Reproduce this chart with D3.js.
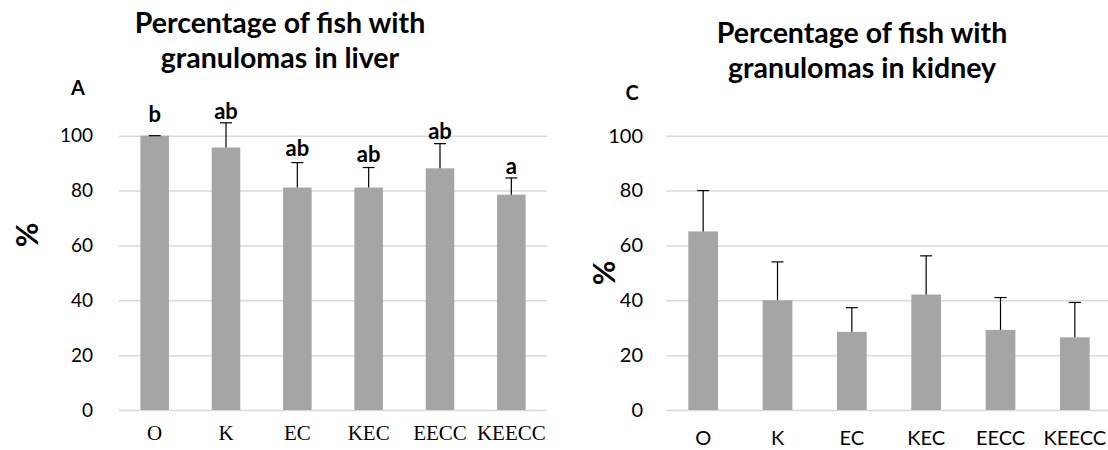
<!DOCTYPE html>
<html>
<head>
<meta charset="utf-8">
<script src="https://cdn.jsdelivr.net/npm/d3@7"></script>
<style>
  html, body { margin: 0; padding: 0; background: #ffffff; }
  svg { display: block; }
</style>
</head>
<body>
<svg id="chart" width="1108" height="450"></svg>
<script>
// Treatment groups shared by both panels
const categories = ["O", "K", "EC", "KEC", "EECC", "KEECC"];

// Panel A: liver (% of fish with granulomas, mean and upper error)
const liverPct = [100, 95.7, 81.1, 81.1, 88.1, 78.5];
const liverErr = [0, 9.0, 9.1, 7.3, 9.0, 6.1];
const liverLetters = ["b", "ab", "ab", "ab", "ab", "a"];

// Panel C: kidney
const kidneyPct = [65.1, 40.0, 28.5, 42.1, 29.2, 26.5];
const kidneyErr = [14.9, 14.0, 8.8, 14.1, 11.8, 12.7];

const yTicks = [0, 20, 40, 60, 80, 100];

const svg = d3.select("#chart");
const SANS = "Lato, 'Open Sans', sans-serif";
const SERIF = "'Liberation Serif', 'DejaVu Serif', serif";
const BAR = "#a5a5a5";
const GRID = "#d9d9d9";

function panel(cfg) {
  const g = svg.append("g");
  const x = d3.scaleBand()
    .domain(categories)
    .range([cfg.x0, cfg.x1])
    .paddingInner(0.6)
    .paddingOuter(0.3);
  const y = d3.scaleLinear().domain([0, 100]).range([410, 135.7]);

  // horizontal gridlines (including the zero line)
  g.append("g")
    .attr("transform", `translate(${cfg.x0},0)`)
    .call(d3.axisLeft(y).tickValues(yTicks).tickSize(-(cfg.x1 - cfg.x0)).tickFormat(""))
    .call(s => s.select(".domain").remove())
    .call(s => s.selectAll("line").attr("stroke", GRID).attr("stroke-width", 1.5));

  // y tick labels
  g.append("g")
    .attr("transform", `translate(${cfg.x0},0)`)
    .call(d3.axisLeft(y).tickValues(yTicks).tickSize(0).tickPadding(cfg.tickPad))
    .call(s => s.select(".domain").remove())
    .call(s => s.selectAll("text")
      .attr("font-family", SANS)
      .attr("font-size", cfg.tickFont)
      .attr("fill", "#000"));

  // x category labels
  g.append("g")
    .attr("transform", `translate(0,${y(0)})`)
    .call(d3.axisBottom(x).tickSize(0))
    .call(s => s.select(".domain").remove())
    .call(s => s.selectAll("text")
      .attr("y", cfg.xLabelY)
      .attr("dy", null)
      .attr("font-family", cfg.xFont)
      .attr("font-size", cfg.xFontSize)
      .attr("fill", "#000"));

  const rows = categories.map((c, i) => ({ c, v: cfg.values[i], e: cfg.errors[i], i }));

  // bars
  g.append("g").selectAll("rect").data(rows).join("rect")
    .attr("x", d => x(d.c))
    .attr("width", x.bandwidth())
    .attr("y", d => y(d.v))
    .attr("height", d => y(0) - y(d.v))
    .attr("fill", BAR);

  // upper error bars
  const eb = g.append("g").attr("stroke", "#000").attr("stroke-width", 1.2);
  eb.selectAll("line.stem").data(rows).join("line")
    .attr("class", "stem")
    .attr("x1", d => x(d.c) + x.bandwidth() / 2)
    .attr("x2", d => x(d.c) + x.bandwidth() / 2)
    .attr("y1", d => y(d.v))
    .attr("y2", d => y(d.v + d.e));
  eb.selectAll("line.cap").data(rows).join("line")
    .attr("class", "cap")
    .attr("x1", d => x(d.c) + x.bandwidth() / 2 - 6)
    .attr("x2", d => x(d.c) + x.bandwidth() / 2 + 6)
    .attr("y1", d => y(d.v + d.e))
    .attr("y2", d => y(d.v + d.e));

  // significance letters
  if (cfg.letters) {
    g.append("g").selectAll("text").data(rows).join("text")
      .attr("x", d => x(d.c) + x.bandwidth() / 2)
      .attr("y", d => y(d.v + d.e) - cfg.letterLift[d.i])
      .attr("text-anchor", "middle")
      .attr("font-family", SANS)
      .attr("font-weight", "bold")
      .attr("font-size", 22)
      .text(d => cfg.letters[d.i]);
  }

  // title (two lines)
  cfg.title.forEach((line, k) => {
    g.append("text")
      .attr("x", cfg.titleX)
      .attr("y", cfg.titleY[k])
      .attr("text-anchor", "middle")
      .attr("font-family", SANS)
      .attr("font-weight", "bold")
      .attr("font-size", 28.5)
      .text(line);
  });

  // panel letter
  g.append("text")
    .attr("x", cfg.tag[0])
    .attr("y", cfg.tag[1])
    .attr("text-anchor", "middle")
    .attr("font-family", SANS)
    .attr("font-weight", "bold")
    .attr("font-size", 20)
    .text(cfg.tagText);

  // y axis title
  g.append("text")
    .attr("transform", `translate(${cfg.pct[0]},${cfg.pct[1]}) rotate(-90)`)
    .attr("text-anchor", "middle")
    .attr("dominant-baseline", "central")
    .attr("font-family", SANS)
    .attr("font-weight", "bold")
    .attr("font-size", 30)
    .text("%");
}

panel({
  x0: 119, x1: 547,
  values: liverPct, errors: liverErr,
  letters: liverLetters, letterLift: [14, 4, 7, 6, 5, 4],
  tickPad: 26, tickFont: 19,
  xFont: SERIF, xFontSize: 21, xLabelY: 30,
  title: ["Percentage of fish with", "granulomas in liver"],
  titleX: 280, titleY: [33, 68],
  tag: [78, 95], tagText: "A",
  pct: [26, 235]
});

panel({
  x0: 666, x1: 1112,
  values: kidneyPct, errors: kidneyErr,
  letters: null,
  tickPad: 23, tickFont: 20,
  xFont: SANS, xFontSize: 20, xLabelY: 35,
  title: ["Percentage of fish with", "granulomas in kidney"],
  titleX: 862, titleY: [43, 78],
  tag: [632, 100], tagText: "C",
  pct: [603, 273]
});
</script>
</body>
</html>
